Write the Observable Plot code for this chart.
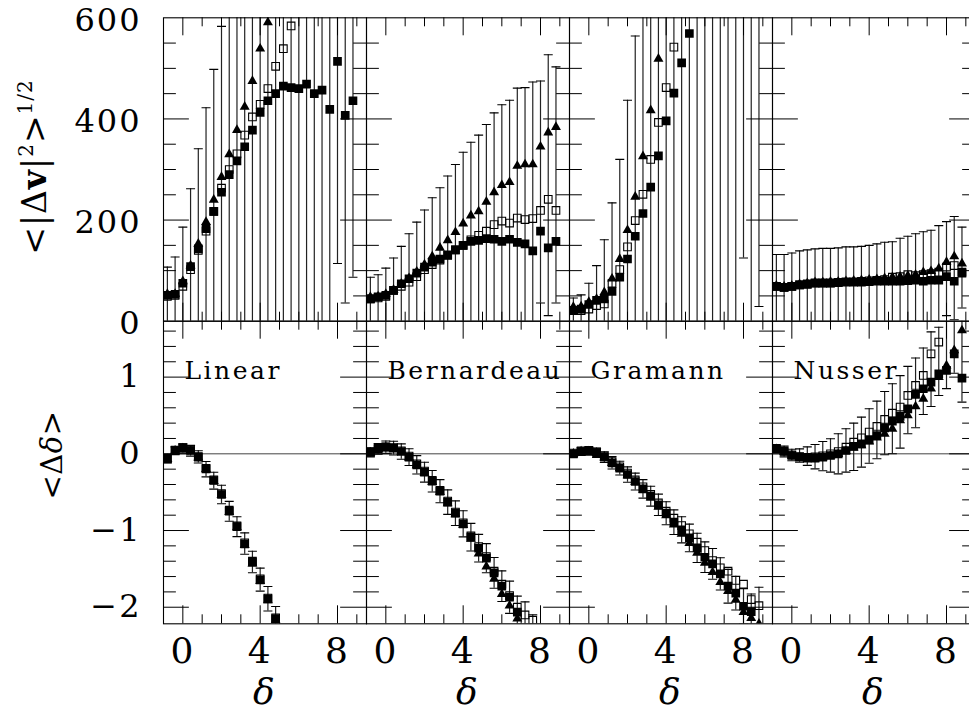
<!DOCTYPE html>
<html><head><meta charset="utf-8">
<script src="https://cdn.jsdelivr.net/npm/d3@7"></script>
<script src="https://cdn.jsdelivr.net/npm/@observablehq/plot@0.6"></script>
<style>
html,body{margin:0;padding:0;background:#fff;overflow:hidden}
#chart{position:relative;width:969px;height:715px;overflow:hidden;background:#fff}
#chart svg{position:absolute;left:0;top:0;max-width:none;background:transparent;overflow:visible}
</style></head><body><div id="chart"></div>
<script>
// ---------------- data ----------------
const models = ["Linear", "Bernardeau", "Gramann", "Nusser"];
const deltaBins = [-0.8,-0.4,0,0.4,0.8,1.2,1.6,2.0,2.4,2.8,3.2,3.6,4.0,4.4,4.8,5.2,5.6,6.0,6.4,6.8,7.2,7.6,8.0,8.4,8.8];

// top row: <|dv|^2>^(1/2)
const dvFilledLinear = [51,53,75,108,143,183,217,255,290,317,345,378,413,436,450,465,462,460,469,450,457,419,514,407,436];
const dvOpenLinear   = [49,51,69,102,140,178,217,263,300,331,368,404,429,460,504,539,584];
const dvTriLinear    = [54,54,79,110,153,196,240,285,330,378,424,475,539,591];
const dvLoLinear     = [-5,-21,-36,-46,-55,-56,-64,-73,-80,-90,-95,-100,-105,-110,-110,-115,-115,-115,-120,-120,-120,-120,114,36,87];
const dvHiLinear     = [107,127,186,262,341,422,498,583,660,700,740,780,820,860,880,900,900,900,920,920,920,920,914,778,785];

const dvFilledBernardeau = [44,48,51,61,74,84,95,107,117,123,131,141,150,158,160,163,162,158,162,156,153,139,178,145,158];
const dvOpenBernardeau   = [44,46,49,61,69,77,88,102,112,121,130,141,150,161,170,178,191,198,194,204,201,203,219,241,219];
const dvTriBernardeau    = [48,49,54,62,74,85,98,112,128,145,160,176,193,209,217,236,255,269,275,307,310,310,345,373,384];
const dvLoBernardeau     = [-3,-4,-5,-5,-5,-10,-10,-10,-15,-15,-20,-20,-25,-25,-30,-30,-35,-35,-40,-40,-45,-45,36,11,36];
const dvHiBernardeau     = [87,92,105,125,148,173,196,220,244,264,287,310,334,354,368,389,412,428,437,461,462,473,475,527,503];

const dvFilledGramann = [21,24,33,41,44,59,87,123,168,213,265,327,396,451,511,569];
const dvOpenGramann   = [21,21,24,31,34,75,102,147,199,251,320,393,462,542];
const dvTriGramann    = [28,29,38,44,57,84,123,180,246,326,417,519];
const dvLoGramann     = [-4,-4,-9,-28,-73,-116,-146,-191,-228,-260,-290,-320,-340,-360,-380,-400,-400,-400,-400,-400,-400,-400,125,-300,29];
const dvHiGramann     = [46,52,75,110,161,234,320,437,564,700,800,900,1000,1000,1000,1000,1000,1000,1000,1000,1000,1000,1000,1000,1000];

const dvFilledNusser = [69,67,69,72,73,75,75,75,76,77,77,77,78,79,79,79,79,80,81,79,81,81,88,79,95];
const dvOpenNusser   = [69,67,69,72,74,76,76,76,77,78,78,79,80,81,82,87,88,92,90,92,94,97,107,110,97];
const dvTriNusser    = [70,68,70,73,75,77,77,78,78,79,80,81,82,83,85,87,88,90,92,97,99,104,117,128,114];
const dvLoNusser     = [-6,-8,-7,-6,-6,-5,-6,-6,-5,-5,-5,-6,-6,-7,-8,-9,-10,-12,-14,-16,-18,-20,11,3,26];
const dvHiNusser     = [132,132,135,139,141,143,144,144,145,147,147,148,150,153,156,157,164,168,173,177,180,189,197,207,186];

// bottom row: <Δδ>
const ddFilledLinear = [-0.065,0.043,0.074,0.043,-0.043,-0.196,-0.348,-0.530,-0.748,-0.948,-1.174,-1.413,-1.643,-1.891,-2.152];
const ddOpenLinear   = [-0.06,0.05,0.08,0.05,-0.035,-0.19,-0.34,-0.52,-0.735,-0.94,-1.16,-1.40,-1.63,-1.88,-2.14];
const ddTriLinear    = [-0.07,0.04,0.07,0.04,-0.05,-0.20,-0.355,-0.54,-0.76,-0.96,-1.19,-1.43,-1.66,-1.91,-2.17];
const ddLoLinear     = [-0.12,-0.01,0.01,-0.03,-0.12,-0.30,-0.46,-0.65,-0.88,-1.08,-1.31,-1.55,-1.79,-2.05,-2.31];
const ddHiLinear     = [-0.01,0.09,0.13,0.11,0.04,-0.10,-0.24,-0.41,-0.62,-0.82,-1.03,-1.27,-1.49,-1.73,-1.99];

const ddFilledBernardeau = [0.02,0.065,0.087,0.074,0.03,-0.043,-0.143,-0.239,-0.357,-0.487,-0.630,-0.774,-0.913,-1.087,-1.230,-1.361,-1.552,-1.726,-1.870,-2.065];
const ddOpenBernardeau   = [0.025,0.07,0.09,0.08,0.04,-0.03,-0.13,-0.225,-0.345,-0.475,-0.615,-0.76,-0.90,-1.07,-1.21,-1.34,-1.53,-1.70,-1.85,-2.00,-2.10,-2.17];
const ddTriBernardeau    = [0.015,0.06,0.08,0.07,0.025,-0.05,-0.15,-0.25,-0.37,-0.50,-0.645,-0.79,-0.93,-1.11,-1.30,-1.47,-1.63,-1.83,-1.98,-2.15];
const ddLoBernardeau     = [-0.04,-0.005,0.007,-0.016,-0.07,-0.153,-0.263,-0.369,-0.497,-0.637,-0.79,-0.934,-1.083,-1.267,-1.41,-1.551,-1.752,-1.926,-2.08,-2.275,-2.35,-2.4];
const ddHiBernardeau     = [0.08,0.135,0.167,0.164,0.13,0.067,-0.023,-0.109,-0.217,-0.337,-0.47,-0.614,-0.743,-0.907,-1.05,-1.171,-1.352,-1.526,-1.66,-1.855,-1.93,-2.1];

const ddFilledGramann = [0,0.03,0.035,0.013,-0.043,-0.117,-0.187,-0.27,-0.361,-0.457,-0.552,-0.665,-0.774,-0.891,-0.991,-1.096,-1.226,-1.348,-1.435,-1.565,-1.726,-1.817,-1.987,-2.057];
const ddOpenGramann   = [0.01,0.04,0.045,0.025,-0.03,-0.10,-0.17,-0.25,-0.34,-0.43,-0.53,-0.64,-0.748,-0.839,-0.935,-1.043,-1.152,-1.261,-1.391,-1.487,-1.53,-1.65,-1.70,-1.90,-1.98];
const ddTriGramann    = [0,0.03,0.03,0.01,-0.05,-0.12,-0.19,-0.28,-0.37,-0.47,-0.57,-0.69,-0.804,-0.922,-1.043,-1.165,-1.291,-1.422,-1.543,-1.674,-1.791,-1.904,-2.065,-2.143,-2.217];
const ddLoGramann     = [-0.04,-0.02,-0.015,-0.047,-0.113,-0.197,-0.277,-0.37,-0.471,-0.577,-0.682,-0.805,-0.924,-1.051,-1.161,-1.276,-1.416,-1.548,-1.635,-1.775,-1.946,-2.037,-2.217,-2.287,-2.42];
const ddHiGramann     = [0.04,0.08,0.085,0.073,0.027,-0.037,-0.097,-0.17,-0.251,-0.337,-0.422,-0.525,-0.624,-0.731,-0.821,-0.916,-1.036,-1.148,-1.235,-1.355,-1.506,-1.597,-1.757,-1.827,-1.74];

const ddFilledNusser = [0.065,0.03,-0.022,-0.043,-0.057,-0.057,-0.043,-0.022,0,0.043,0.096,0.13,0.183,0.239,0.339,0.426,0.487,0.587,0.774,0.848,0.935,1.043,1.087,1.304,0.987];
const ddOpenNusser   = [0.07,0.035,-0.015,-0.035,-0.045,-0.04,-0.025,0,0.03,0.087,0.152,0.209,0.283,0.357,0.448,0.530,0.609,0.761,0.891,1.022,1.304,1.457];
const ddTriNusser    = [0.06,0.025,-0.025,-0.045,-0.06,-0.06,-0.045,-0.025,-0.005,0.035,0.08,0.11,0.16,0.21,0.261,0.326,0.435,0.5,0.617,0.717,0.85,1.0,1.15,1.35,1.609];
const ddLoNusser     = [0.02,-0.04,-0.09,-0.109,-0.15,-0.196,-0.22,-0.239,-0.261,-0.239,-0.217,-0.174,-0.122,-0.065,-0.013,0.0,0.074,0.261,0.339,0.513,0.617,0.76,0.85,1.05,0.674];
const ddHiNusser     = [0.11,0.1,0.06,0.065,0.09,0.122,0.16,0.196,0.261,0.326,0.4,0.478,0.587,0.687,0.813,0.913,1.02,1.14,1.25,1.38,1.59,1.65,1.85,1.9,1.8];

// ticks and labels
const xLabelTicks = [0, 4, 8];
const xMinorTicks = [1, 2, 3, 5, 6, 7, 9];
const dvLabelTicks = [0, 200, 400, 600];
const dvMajorTicks = [200, 400];
const dvMinorTicks = [50, 100, 150, 250, 300, 350, 450, 500, 550];
const ddLabelTicks = [-2, -1, 0, 1];
const ddMajorTicks = [-2, -1, 0, 1];
const ddMinorTicks = [-1.8, -1.6, -1.4, -1.2, -0.8, -0.6, -0.4, -0.2, 0.2, 0.4, 0.6, 0.8, 1.2, 1.4, 1.6];

// -------------- build tables --------------
const dvSeries = {
  Linear: [dvFilledLinear, dvOpenLinear, dvTriLinear, dvLoLinear, dvHiLinear],
  Bernardeau: [dvFilledBernardeau, dvOpenBernardeau, dvTriBernardeau, dvLoBernardeau, dvHiBernardeau],
  Gramann: [dvFilledGramann, dvOpenGramann, dvTriGramann, dvLoGramann, dvHiGramann],
  Nusser: [dvFilledNusser, dvOpenNusser, dvTriNusser, dvLoNusser, dvHiNusser]
};
const ddSeries = {
  Linear: [ddFilledLinear, ddOpenLinear, ddTriLinear, ddLoLinear, ddHiLinear],
  Bernardeau: [ddFilledBernardeau, ddOpenBernardeau, ddTriBernardeau, ddLoBernardeau, ddHiBernardeau],
  Gramann: [ddFilledGramann, ddOpenGramann, ddTriGramann, ddLoGramann, ddHiGramann],
  Nusser: [ddFilledNusser, ddOpenNusser, ddTriNusser, ddLoNusser, ddHiNusser]
};
function buildRows(table) {
  const rows = [];
  for (const m of models) {
    const [f, o, t, lo, hi] = table[m];
    deltaBins.forEach((x, k) => rows.push({model: m, x, filled: f[k] ?? null, open: o[k] ?? null, tri: t[k] ?? null, lo: lo[k] ?? null, hi: hi[k] ?? null}));
  }
  return rows;
}
const dvRows = buildRows(dvSeries);
const ddRows = buildRows(ddSeries);

// -------------- layout --------------
const W = 975, H = 715, ML = 162.5;
const panelW = (W - ML) / models.length;
const topM = {marginTop: 17.3, marginBottom: 394.3};
const botM = {marginTop: 320.7, marginBottom: 91.7};

// -------------- helpers --------------
const capSym = {draw(c) { c.moveTo(-4.5, 0); c.lineTo(4.5, 0); }};
const tk = {stroke: "black", strokeWidth: 1};

function frameTicks(yMajor, yMinor, panelH) {
  return [
    Plot.tickY(yMinor, {y: d => d, insetRight: panelW - 13, ...tk}),
    Plot.tickY(yMinor, {y: d => d, insetLeft: panelW - 13, ...tk}),
    Plot.tickY(yMajor, {y: d => d, insetRight: panelW - 26, ...tk}),
    Plot.tickY(yMajor, {y: d => d, insetLeft: panelW - 26, ...tk}),
    Plot.tickX(xMinorTicks, {x: d => d, insetBottom: panelH - 9, ...tk}),
    Plot.tickX(xMinorTicks, {x: d => d, insetTop: panelH - 9, ...tk}),
    Plot.tickX(xLabelTicks, {x: d => d, insetBottom: panelH - 18, ...tk}),
    Plot.tickX(xLabelTicks, {x: d => d, insetTop: panelH - 18, ...tk})
  ];
}
function dataMarks(rows) {
  return [
    Plot.ruleX(rows, {fx: "model", x: "x", y1: "lo", y2: "hi", stroke: "#222", strokeWidth: 1.2, clip: true}),
    Plot.dot(rows, {fx: "model", x: "x", y: "lo", symbol: capSym, fill: "none", stroke: "#000", strokeWidth: 1.1, clip: true}),
    Plot.dot(rows, {fx: "model", x: "x", y: "hi", symbol: capSym, fill: "none", stroke: "#000", strokeWidth: 1.1, clip: true}),
    Plot.dot(rows, {fx: "model", x: "x", y: "tri", symbol: "triangle", r: 3.7, fill: "black", stroke: "none", clip: true}),
    Plot.dot(rows, {fx: "model", x: "x", y: "open", symbol: "square", r: 4.3, fill: "none", stroke: "black", strokeWidth: 1.1, clip: true}),
    Plot.dot(rows, {fx: "model", x: "x", y: "filled", symbol: "square", r: 4.9, fill: "black", stroke: "none", clip: true})
  ];
}
const svgStyle = {fontFamily: "'DejaVu Serif', serif", fontSize: "32px", letterSpacing: "2px", maxWidth: "none", background: "transparent", overflow: "visible"};
const common = {width: W, height: H, marginLeft: ML, marginRight: 0,
  x: {domain: [-1, 9.5], axis: null}, fx: {domain: models, padding: 0, axis: null, label: null}, style: svgStyle};
const intFmt = d3.format("d");

// -------------- top row --------------
const topPlot = Plot.plot({
  ...common, ...topM,
  y: {domain: [0, 600], label: null},
  marks: [
    ...dataMarks(dvRows),
    Plot.frame({stroke: "black", strokeWidth: 1.1}),
    ...frameTicks(dvMajorTicks, dvMinorTicks, H - topM.marginTop - topM.marginBottom),
    Plot.axisY(dvLabelTicks, {anchor: "left", tickSize: 0, tickPadding: 22, dy: 3, label: null, facetAnchor: "left", fontSize: 32, tickFormat: intFmt})
  ]
});

// -------------- bottom row --------------
const bottomPlot = Plot.plot({
  ...common, ...botM,
  y: {domain: [-2.216, 1.729], label: null},
  marks: [
    Plot.ruleY([0], {stroke: "#444", strokeWidth: 1}),
    ...dataMarks(ddRows),
    Plot.frame({stroke: "black", strokeWidth: 1.1}),
    ...frameTicks(ddMajorTicks, ddMinorTicks, H - botM.marginTop - botM.marginBottom),
    Plot.axisY(ddLabelTicks, {anchor: "left", tickSize: 0, tickPadding: 22, label: null, facetAnchor: "left", fontSize: 32, tickFormat: intFmt}),
    Plot.axisX(xLabelTicks, {anchor: "bottom", tickSize: 0, tickPadding: 14, label: null, facetAnchor: "bottom", fontSize: 36, tickFormat: intFmt}),
    Plot.text(models, {fx: d => d, text: d => d, frameAnchor: "top-left", textAnchor: "start", dx: 21, dy: 40, fontSize: 25}),
    Plot.text(["δ"], {text: d => d, frameAnchor: "bottom", dy: 80, fontSize: 36, fontStyle: "italic"})
  ]
});

const chart = document.getElementById("chart");
chart.append(topPlot, bottomPlot);
for (const s of [topPlot, bottomPlot]) { s.style.maxWidth = "none"; s.style.background = "transparent"; }
bottomPlot.querySelectorAll('g[aria-label="text"] text').forEach(t => t.style.letterSpacing = "2.5px");

// axis titles (overlay)
const ns = "http://www.w3.org/2000/svg";
const ov = document.createElementNS(ns, "svg");
ov.setAttribute("width", 969); ov.setAttribute("height", 715);
ov.innerHTML = `
<text transform="translate(46,167) rotate(-90)" text-anchor="middle" font-family="DejaVu Serif" font-size="33" letter-spacing="1">&lt;|Δ<tspan font-weight="bold">v</tspan>|<tspan font-size="20" dy="-13">2</tspan><tspan dy="13">&gt;</tspan><tspan font-size="20" dy="-14">1/2</tspan></text>
<text transform="translate(62,455) rotate(-90)" text-anchor="middle" font-family="DejaVu Serif" font-size="29" letter-spacing="0.5">&lt;Δ<tspan font-style="italic">δ</tspan>&gt;</text>`;
chart.append(ov);
</script></body></html>
